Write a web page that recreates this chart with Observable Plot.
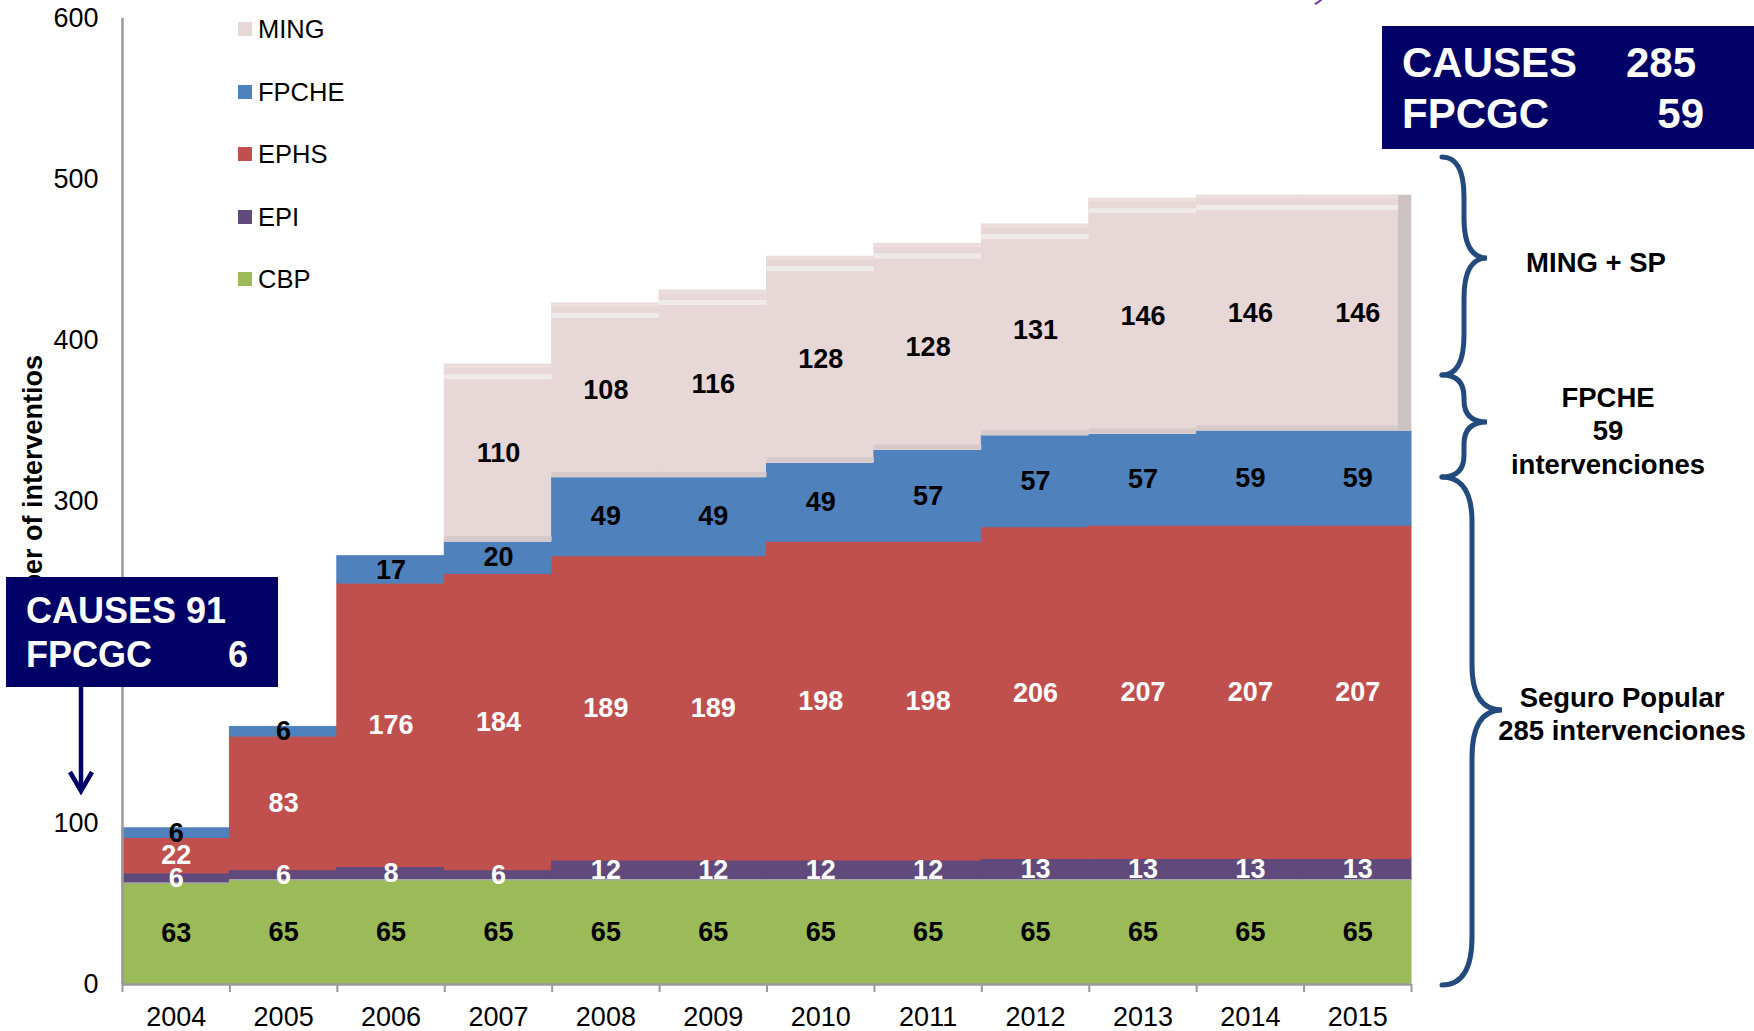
<!DOCTYPE html>
<html>
<head>
<meta charset="utf-8">
<script src="https://cdn.jsdelivr.net/npm/d3@7"></script>
<script src="https://cdn.jsdelivr.net/npm/@observablehq/plot@0.6"></script>
<style>
  html, body { margin: 0; padding: 0; background: #fff; overflow: hidden; }
  #wrap { position: relative; width: 1754px; height: 1031px; font-family: "Liberation Sans", Arial, sans-serif; }
  #wrap svg { display: block; }
  .legend { position: absolute; left: 238px; top: 0; }
  .legend .item { position: absolute; left: 0; white-space: nowrap; font-size: 25.5px; line-height: 1; color: #000; }
  .legend .sw { position: absolute; left: 0; width: 14px; height: 14px; }
  .legend .lab { position: absolute; left: 20px; }
  #overlay { position: absolute; left: 0; top: 0; pointer-events: none; }
</style>
</head>
<body>
<div id="wrap"></div>
<script>
// ---------- data ----------
const years = [2004, 2005, 2006, 2007, 2008, 2009, 2010, 2011, 2012, 2013, 2014, 2015];
const CBP   = [63, 65, 65, 65, 65, 65, 65, 65, 65, 65, 65, 65];
const EPI   = [6, 6, 8, 6, 12, 12, 12, 12, 13, 13, 13, 13];
const EPHS  = [22, 83, 176, 184, 189, 189, 198, 198, 206, 207, 207, 207];
const FPCHE = [6, 6, 17, 20, 49, 49, 49, 57, 57, 57, 59, 59];
const MING  = [0, 0, 0, 110, 108, 116, 128, 128, 131, 146, 146, 146];
const seriesNames  = ["CBP", "EPI", "EPHS", "FPCHE", "MING"];
const seriesValues = [CBP, EPI, EPHS, FPCHE, MING];
const seriesColors = ["#9BBB59", "#604A7B", "#C0504D", "#4F81BD", "#E8D7D7"];
const labelColors  = ["#000", "#fff", "#fff", "#000", "#000"];
const legendOrder  = ["MING", "FPCHE", "EPHS", "EPI", "CBP"];
const yTicks = [0, 100, 200, 300, 400, 500, 600];
const yTitle = "Number of interventios";
const boxLeft  = [["CAUSES 91", ""], ["FPCGC", "6"]];
const boxRight = [["CAUSES", "285"], ["FPCGC", "59"]];
const braceTexts = [["MING + SP"], ["FPCHE", "59", "intervenciones"], ["Seguro Popular", "285 intervenciones"]];

// ---------- build stacked table ----------
const rows = [];
years.forEach((yr, i) => {
  let base = 0;
  seriesNames.forEach((s, k) => {
    const v = seriesValues[k][i];
    rows.push({year: yr, x1: yr - 0.5, x2: yr + 0.5, y1: base, y2: base + v, ym: base + v / 2,
               v, series: s, color: seriesColors[k], lc: labelColors[k]});
    base += v;
  });
});
const shown = rows.filter(d => d.v > 0);
const ming = shown.filter(d => d.series === "MING");
const cbp = rows.filter(d => d.series === "CBP");
const edges = [years[0] - 0.5, ...years.map(y => y + 0.5)];
const lastMing = ming.filter(d => d.year === years[years.length - 1]);

const W = 1754, H = 1031;
const chart = Plot.plot({
  width: W, height: H,
  marginLeft: 122, marginRight: 343, marginTop: 18, marginBottom: 47,
  x: {domain: [edges[0], edges[edges.length - 1]]},
  y: {domain: [0, 600]},
  color: {type: "identity"},
  style: {fontFamily: "'Liberation Sans', Arial, sans-serif", fontSize: "27px", color: "#000", background: "transparent"},
  marks: [
    Plot.rect(shown, {x1: "x1", x2: "x2", y1: "y1", y2: "y2", fill: "color", stroke: "color", strokeWidth: 1}),
    // bevel look of the MING area
    Plot.ruleY(ming, {x1: "x1", x2: "x2", y: "y1", dy: -3, stroke: "#D6C9C9", strokeWidth: 5}),
    Plot.ruleY(ming, {x1: "x1", x2: "x2", y: "y2", dy: 12, stroke: "#EFEBEB", strokeWidth: 5}),
    Plot.ruleY(ming, {x1: "x1", x2: "x2", y: "y2", dy: 1.5, stroke: "#EEDFDF", strokeWidth: 3}),
    Plot.ruleX(lastMing, {x: "x2", y1: "y1", y2: "y2", dx: -7, stroke: "#CEC3C3", strokeWidth: 13}),
    Plot.ruleY(cbp, {x1: "x1", x2: "x2", y: "y2", stroke: "#A6A6A6", strokeWidth: 1.5}),
    // value labels
    Plot.text(shown.filter(d => d.lc === "#000"), {x: "year", y: "ym", text: d => String(d.v), fill: "#000", fontWeight: "bold", fontSize: 27}),
    Plot.text(shown.filter(d => d.lc === "#fff"), {x: "year", y: "ym", text: d => String(d.v), fill: "#fff", fontWeight: "bold", fontSize: 27}),
    // axes
    Plot.axisY({ticks: yTicks, tickSize: 0, tickPadding: 24, label: null, fontSize: 27, tickFormat: d => String(d)}),
    Plot.axisX({ticks: edges, tickSize: 8, tickFormat: () => "", stroke: "#999", strokeWidth: 2, label: null}),
    Plot.axisX({ticks: years, tickSize: 0, tickPadding: 22, tickFormat: d => String(d), label: null, fontSize: 27}),
    Plot.ruleX([edges[0]], {stroke: "#9A9A9A", strokeWidth: 2.5}),
    Plot.ruleY([0], {stroke: "#9A9A9A", strokeWidth: 2.5})
  ]
});
const wrap = document.getElementById("wrap");
wrap.appendChild(chart);

// ---------- legend ----------
const leg = document.createElement("div");
leg.className = "legend";
legendOrder.forEach((name, i) => {
  const k = seriesNames.indexOf(name);
  const item = document.createElement("div");
  item.className = "item";
  item.style.top = (29 + i * 62.5) + "px";
  item.innerHTML = `<span class="sw" style="background:${seriesColors[k]};top:-7px"></span><span class="lab" style="top:-12px">${name}</span>`;
  leg.appendChild(item);
});
wrap.appendChild(leg);

// ---------- annotations overlay ----------
const ov = d3.select(wrap).append("svg").attr("id", "overlay").attr("width", W).attr("height", H)
  .style("font-family", "'Liberation Sans', Arial, sans-serif");
const navy = "#000066", braceColor = "#234A7D";

// y axis title (partly hidden by the box)
ov.append("text").attr("transform", "translate(42,355) rotate(-90)").attr("text-anchor", "end")
  .attr("font-size", 27).attr("font-weight", "bold").attr("fill", "#000").text(yTitle);

// left box
ov.append("rect").attr("x", 6).attr("y", 577).attr("width", 272).attr("height", 110).attr("fill", navy);
ov.append("text").attr("x", 26).attr("y", 623).attr("font-size", 36).attr("font-weight", "bold").attr("fill", "#fff").text(boxLeft[0][0]);
ov.append("text").attr("x", 26).attr("y", 667).attr("font-size", 36).attr("font-weight", "bold").attr("fill", "#fff").text(boxLeft[1][0]);
ov.append("text").attr("x", 248).attr("y", 667).attr("text-anchor", "end").attr("font-size", 36).attr("font-weight", "bold").attr("fill", "#fff").text(boxLeft[1][1]);
// arrow
ov.append("line").attr("x1", 81).attr("y1", 687).attr("x2", 81).attr("y2", 791).attr("stroke", navy).attr("stroke-width", 4.5);
ov.append("path").attr("d", "M70,772 L81,791 L92,772").attr("fill", "none").attr("stroke", navy).attr("stroke-width", 4.5).attr("stroke-linejoin", "miter");

// right box
ov.append("rect").attr("x", 1382).attr("y", 26).attr("width", 372).attr("height", 123).attr("fill", navy);
ov.append("text").attr("x", 1402).attr("y", 77).attr("font-size", 42).attr("font-weight", "bold").attr("fill", "#fff").text(boxRight[0][0]);
ov.append("text").attr("x", 1696).attr("y", 77).attr("text-anchor", "end").attr("font-size", 42).attr("font-weight", "bold").attr("fill", "#fff").text(boxRight[0][1]);
ov.append("text").attr("x", 1402).attr("y", 128).attr("font-size", 42).attr("font-weight", "bold").attr("fill", "#fff").text(boxRight[1][0]);
ov.append("text").attr("x", 1704).attr("y", 128).attr("text-anchor", "end").attr("font-size", 42).attr("font-weight", "bold").attr("fill", "#fff").text(boxRight[1][1]);

// small purple mark at top
ov.append("path").attr("d", "M1315,4 Q1319,2 1322,-1").attr("fill", "none").attr("stroke", "#7030A0").attr("stroke-width", 2);

// braces
function brace(xe, yT, yB, xs, xt, yt, r1, r2) {
  return `M${xe},${yT} Q${xs},${yT} ${xs},${yT + r1} L${xs},${yt - r1} Q${xs},${yt} ${xt},${yt}` +
         ` Q${xs},${yt} ${xs},${yt + r2} L${xs},${yB - r2} Q${xs},${yB} ${xe},${yB}`;
}
[[1442, 157, 375, 1464, 1487, 258, 40, 40],
 [1442, 375, 477, 1464, 1487, 422, 22, 22],
 [1442, 477, 985, 1472, 1502, 710, 45, 48]].forEach(b => {
  ov.append("path").attr("d", brace(...b)).attr("fill", "none").attr("stroke", braceColor).attr("stroke-width", 5).attr("stroke-linecap", "round");
});

// brace texts
const bt = [[1596, [272]], [1608, [407, 440, 474]], [1622, [707, 740]]];
braceTexts.forEach((lines, i) => {
  lines.forEach((t, j) => {
    ov.append("text").attr("x", bt[i][0]).attr("y", bt[i][1][j]).attr("text-anchor", "middle")
      .attr("font-size", 27.5).attr("font-weight", "bold").attr("fill", "#000").text(t);
  });
});
</script>
</body>
</html>
